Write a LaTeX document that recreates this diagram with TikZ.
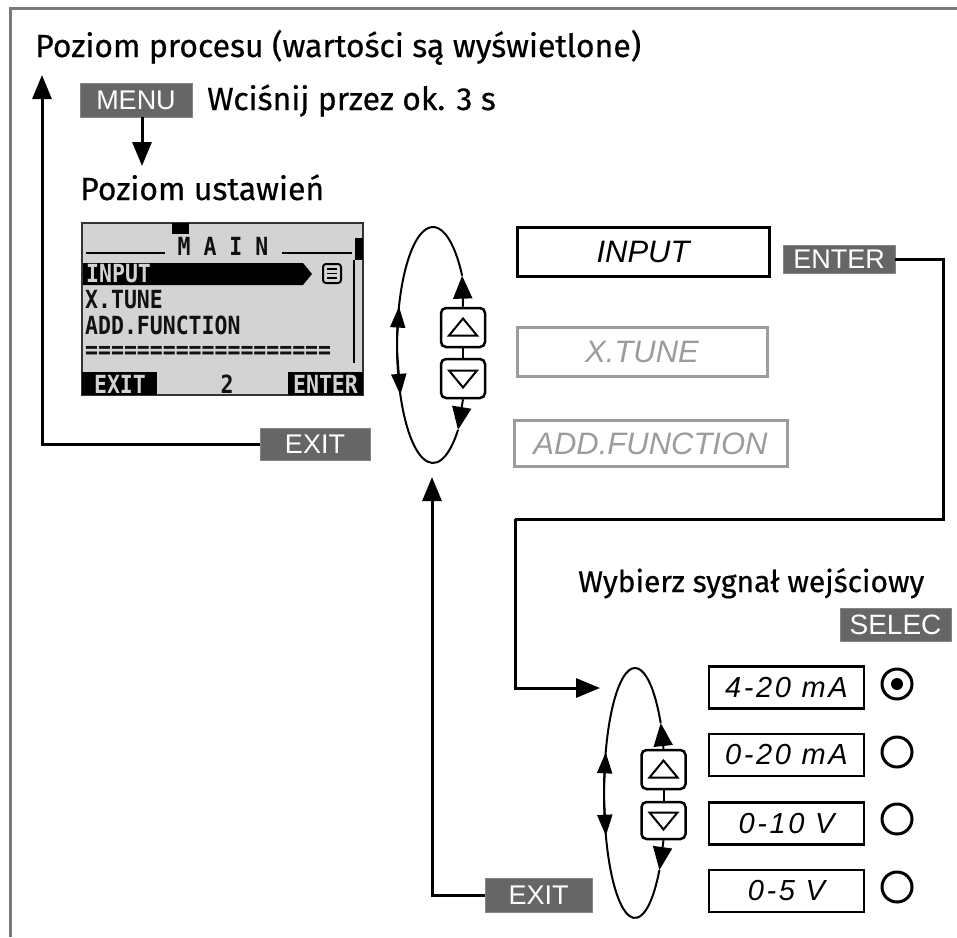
\documentclass[tikz,border=0pt]{standalone}
\usepackage{fontspec}
\setmainfont{Fira Sans}[FakeBold=0.5]
\newfontfamily\keyfont{Liberation Sans}
\newfontfamily\lcdfont{DejaVu Sans Mono}[FakeStretch=0.86]
\usetikzlibrary{arrows.meta,calc}

\definecolor{keygray}{HTML}{666666}
\definecolor{framegray}{HTML}{7A7A7A}
\definecolor{dimgray}{HTML}{9C9C9C}
\definecolor{lcdbg}{HTML}{D3D3D3}
\definecolor{lcdink}{HTML}{111111}

\tikzset{
  keybox/.style={fill=keygray, draw=keygray!80, line width=0.8pt, text=white,
    font=\keyfont\fontsize{27}{27}\selectfont, inner sep=0pt},
  itembox/.style={draw=black, line width=3pt, inner sep=0pt,
    font=\keyfont\itshape\fontsize{31}{31}\selectfont},
  dimbox/.style={itembox, draw=dimgray, text=dimgray},
  optbox/.style={draw=black, line width=2.8pt, inner sep=0pt,
    minimum width=155pt, minimum height=42pt,
    font=\keyfont\itshape\fontsize{29}{29}\selectfont\addfontfeature{LetterSpace=9}},
  conn/.style={line width=3pt},
  loopline/.style={line width=2pt},
  tip/.style={-{Triangle[length=24pt,width=19pt]}},
  looptip/.style={-{Triangle[length=23pt,width=19pt]}},
  sidetip/.style={-{Triangle[length=21pt,width=15pt]}},
  navkey/.style={draw=black, line width=2.5pt, rounded corners=5pt, fill=white,
    minimum width=44pt, minimum height=39pt, inner sep=0pt},
  radio/.style={circle, draw=black, line width=3pt, minimum size=30pt, inner sep=0pt},
  heading/.style={anchor=base west, inner sep=0pt, font=\fontsize{32}{32}\selectfont},
  lcdtext/.style={inner sep=0pt, font=\lcdfont\bfseries\fontsize{25}{25}\selectfont, text=lcdink},
}

\begin{document}
\begin{tikzpicture}[x=1pt, y=-1pt]
\useasboundingbox (0,0) rectangle (957,937);

% page frame
\draw[framegray, line width=3pt] (10,937) -- (10,8) -- (957,8);

% headings
\node[heading] (proc) at (35,57) {Poziom procesu (wartości są wyświetlone)};
\node[heading] (press) at (207,110) {Wciśnij przez ok. 3 s};
\node[heading] (setlvl) at (80,200) {Poziom ustawień};
\node[heading, font=\fontsize{30}{30}\selectfont] (choose) at (578,592) {Wybierz sygnał wejściowy};

% key labels
\node[keybox, minimum width=112pt, minimum height=34pt] (menu) at (136,100) {MENU};
\node[keybox, minimum width=112pt, minimum height=28pt] (enter) at (839,259) {ENTER};
\node[keybox, minimum width=110pt, minimum height=32pt] (exit1) at (315,444) {EXIT};
\node[keybox, minimum width=111pt, minimum height=33pt, font=\keyfont\fontsize{28}{28}\selectfont] (selec) at (895.5,624.5) {SELEC};
\node[keybox, minimum width=107pt, minimum height=34pt] (exit2) at (538.5,895) {EXIT};

% ---- LCD screen ----
\draw[fill=lcdbg, draw=black!80, line width=2pt] (82,223) rectangle (363,395);
\fill[black] (172,223) rectangle (189,234);
\node[lcdtext] (lcdtitle) at (223,246) {M A I N};
\draw[line width=2.5pt] (86,253) -- (165,253);
\draw[line width=2.5pt] (282,253) -- (352,253);
\fill[black] (355,238) rectangle (363,260);
\draw[line width=2pt] (353.5,260) -- (353.5,363);
\fill[black] (83,263) -- (303,263) -- (312,274) -- (303,285) -- (83,285) -- cycle;
\node[lcdtext, anchor=west, text=lcdbg] (lcdinput) at (86,274) {INPUT};
\draw[line width=2pt, rounded corners=3pt] (323,264) rectangle (341,283);
\foreach \yy in {269,273.5,278} \draw[line width=1.6pt] (327,\yy) -- (337,\yy);
\node[lcdtext, anchor=west] (lcdtune) at (85,300) {X.TUNE};
\node[lcdtext, anchor=west] (lcdadd) at (85,325) {ADD.FUNCTION};
\node[lcdtext, anchor=west] (lcdline) at (85,352) {===================};
\fill[black] (82,372) rectangle (157,395);
\fill[black] (288,372) rectangle (363,395);
\node[lcdtext, text=lcdbg] (lcdexit) at (120,384) {EXIT};
\node[lcdtext] (lcdnum) at (227,384) {2};
\node[lcdtext, text=lcdbg] (lcdenter) at (325.5,384) {ENTER};

% ---- main menu entries ----
\node[itembox, minimum width=252pt, minimum height=49pt] (input) at (643,252) {INPUT};
\node[dimbox, minimum width=250pt, minimum height=49pt] (xtune) at (642,352) {X.TUNE};
\node[dimbox, minimum width=273pt, minimum height=46pt] (addfn) at (650.5,443.5) {ADD.FUNCTION};

% ---- first selection loop ----
\coordinate (c1) at (433,345);
\draw[loopline] ($(c1)+(-36:36 and 118)$) arc[start angle=-36, end angle=-314, x radius=36, y radius=118];
\coordinate (e1a) at ($(c1)+(-36:36 and 118)$);
\coordinate (e1b) at ($(c1)+(46:36 and 118)$);
\node[navkey] (up1) at (463,327.5) {};
\node[navkey] (dn1) at (463,378.5) {};
\draw[loopline] (up1) -- (dn1);
\draw[loopline, looptip] (up1.north) -- (e1a);
\draw[loopline, looptip] (dn1.south) -- (e1b);
\draw[loopline, sidetip] ($(c1)+(-177:36 and 118)$) -- ($(c1)+(-161:36 and 118)$);
\draw[loopline, sidetip] ($(c1)+(177:36 and 118)$) -- ($(c1)+(155:36 and 118)$);
\draw[line width=2pt, line join=miter] ($(up1)+(-14,8)$) -- ($(up1)+(14,8)$) -- ($(up1)+(0,-9)$) -- cycle;
\draw[line width=2pt, line join=miter] ($(dn1)+(-14,-8)$) -- ($(dn1)+(14,-8)$) -- ($(dn1)+(0,9)$) -- cycle;

% ---- signal selection loop ----
\coordinate (c2) at (635,793);
\draw[loopline] ($(c2)+(-34:31 and 125)$) arc[start angle=-34, end angle=-322, x radius=31, y radius=125];
\coordinate (e2a) at ($(c2)+(-34:31 and 125)$);
\coordinate (e2b) at ($(c2)+(38:31 and 125)$);
\node[navkey] (up2) at (663.5,769.5) {};
\node[navkey, minimum height=37pt] (dn2) at (663.5,820.5) {};
\draw[loopline] (up2) -- (dn2);
\draw[loopline, looptip] (up2.north) -- (e2a);
\draw[loopline, looptip] (dn2.south) -- (e2b);
\draw[loopline, sidetip] ($(c2)+(-177:31 and 125)$) -- ($(c2)+(-161:31 and 125)$);
\draw[loopline, sidetip] ($(c2)+(177:31 and 125)$) -- ($(c2)+(160:31 and 125)$);
\draw[line width=2pt, line join=miter] ($(up2)+(-14,8)$) -- ($(up2)+(14,8)$) -- ($(up2)+(0,-9)$) -- cycle;
\draw[line width=2pt, line join=miter] ($(dn2)+(-14,-8)$) -- ($(dn2)+(14,-8)$) -- ($(dn2)+(0,9)$) -- cycle;

% ---- signal options ----
\node[optbox] (o1) at (786.5,687.5) {4-20 mA};
\node[optbox] (o2) at (786.5,755) {0-20 mA};
\node[optbox] (o3) at (786.5,823.5) {0-10 V};
\node[optbox] (o4) at (786.5,891) {0-5 V};
\node[radio] (r1) at (897,684) {};
\node[radio] (r2) at (897,752) {};
\node[radio] (r3) at (897,819) {};
\node[radio] (r4) at (897,887) {};
\fill[black] (r1.center) circle (6pt);

% ---- connectors ----
\coordinate (proctip) at (42,75);
\coordinate (settip) at (142,166);
\coordinate (rturn) at (943,519);
\coordinate (lturn) at (515,519);
\coordinate (loop2in) at (600,688);
\coordinate (loop1in) at (432,477);
\draw[conn, tip] (exit1.west) -| (proctip);
\draw[conn, tip] (menu.south -| settip) -- (settip);
\draw[conn] (enter.east) -| (rturn) -- (lturn);
\draw[conn, tip] (lturn) |- (loop2in);
\draw[conn, tip] (exit2.west) -| (loop1in);
\end{tikzpicture}
\end{document}
